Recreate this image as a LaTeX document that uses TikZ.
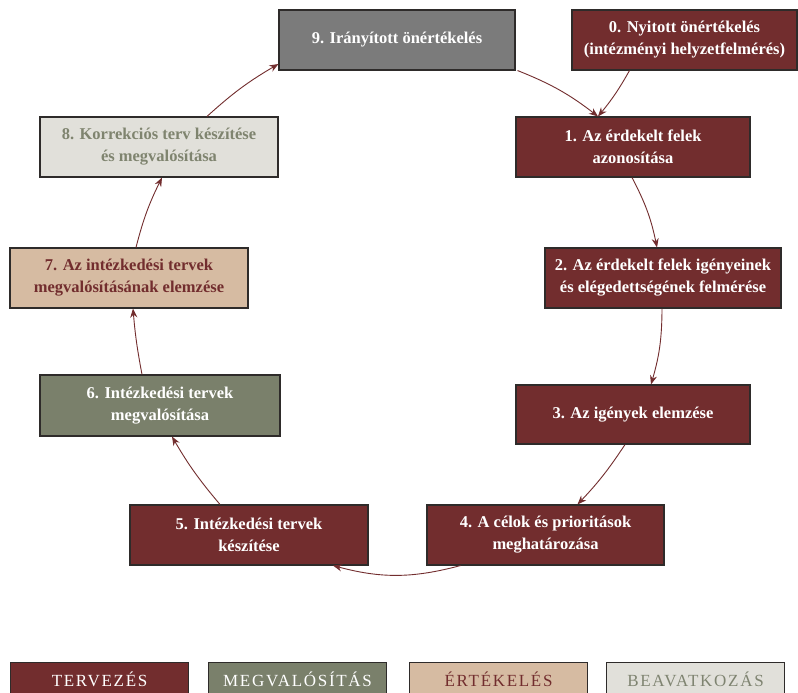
\documentclass[tikz,border=0pt]{standalone}
\usepackage{fontspec}
\setmainfont{Liberation Serif}
\newfontfamily\legendfont[LetterSpace=10]{Liberation Serif}
\usetikzlibrary{arrows.meta}
\definecolor{cRed}{HTML}{722D2E}
\definecolor{cOlive}{HTML}{7A806B}
\definecolor{cTan}{HTML}{D6BBA2}
\definecolor{cLight}{HTML}{E1E0DA}
\definecolor{cGray}{HTML}{7B7B7B}
\definecolor{cLightTxt}{HTML}{7F846F}
\definecolor{cBorder}{HTML}{2E2B2A}
\begin{document}
\begin{tikzpicture}[x=1pt,y=-1pt,
  box/.style={draw=cBorder,line width=1.1pt,align=center,inner sep=2pt,
    font=\fontsize{16.5}{22}\selectfont\bfseries},
  red/.style={box,fill=cRed,text=white},
  olive/.style={box,fill=cOlive,text=white},
  tan/.style={box,fill=cTan,text=cRed},
  light/.style={box,fill=cLight,text=cLightTxt},
  gray/.style={box,fill=cGray,text=white},
  leg/.style={draw=cBorder,line width=1.1pt,minimum width=178pt,minimum height=34pt,
    font=\legendfont\fontsize{17}{19}\selectfont,anchor=north west,inner sep=0pt,text depth=0pt},
  arr/.style={draw=cRed,line width=0.9pt,-{Stealth[length=9pt,width=7pt]}}]
\useasboundingbox (0,0) rectangle (798,693);
\fill[white] (0,0) rectangle (798,693);

\node[gray,minimum width=236pt,minimum height=60pt] (n9) at (397,40) {9. Irányított önértékelés};
\node[red,minimum width=225pt,minimum height=60pt] (n0) at (684.5,40) {0. Nyitott önértékelés\\(intézményi helyzetfelmérés)};
\node[red,minimum width=234pt,minimum height=60pt] (n1) at (633,147) {1. Az érdekelt felek\\azonosítása};
\node[red,minimum width=236pt,minimum height=60pt] (n2) at (663,278) {2. Az érdekelt felek igényeinek\\és elégedettségének felmérése};
\node[red,minimum width=234pt,minimum height=59pt] (n3) at (633,414.5) {3. Az igények elemzése};
\node[red,minimum width=237pt,minimum height=60pt] (n4) at (545.5,535) {4. A célok és prioritások\\meghatározása};
\node[red,minimum width=238pt,minimum height=60pt] (n5) at (249,535) {5. Intézkedési tervek\\készítése};
\node[olive,minimum width=240pt,minimum height=61pt] (n6) at (160,405.5) {6. Intézkedési tervek\\megvalósítása};
\node[tan,minimum width=238pt,minimum height=60pt] (n7) at (129,278) {7. Az intézkedési tervek\\megvalósításának elemzése};
\node[light,minimum width=238pt,minimum height=60pt] (n8) at (159,147) {8. Korrekciós terv készítése\\és megvalósítása};

\node[leg,fill=cRed,text=white] (l1) at (10,662) {TERVEZÉS};
\node[leg,fill=cOlive,text=white] (l2) at (208,662) {MEGVALÓSÍTÁS};
\node[leg,fill=cTan,text=cRed] (l3) at (409,662) {ÉRTÉKELÉS};
\node[leg,fill=cLight,text=cLightTxt!90!gray] (l4) at (606,662) {BEAVATKOZÁS};

\draw[arr] ([xshift=2pt]n9.south east) to[bend left=8] ([xshift=-35pt]n1.north);
\draw[arr] ([xshift=-55pt]n0.south) to[bend left=5] ([xshift=-35pt]n1.north);
\draw[arr] ([xshift=-1pt]n1.south) to[bend left=8] ([xshift=-6pt]n2.north);
\draw[arr] ([xshift=-1pt]n2.south) to[bend left=8] ([xshift=18pt]n3.north);
\draw[arr] ([xshift=-8pt]n3.south) to[bend left=5] ([xshift=32pt]n4.north);
\draw[arr] ([xshift=-85pt]n4.south) to[out=195,in=-15] ([xshift=84pt]n5.south);
\draw[arr] ([xshift=-29pt]n5.north) to[bend left=5] ([xshift=12pt]n6.south);
\draw[arr] ([xshift=-18pt]n6.north) to[bend left=3] ([xshift=4pt]n7.south);
\draw[arr] ([xshift=7pt]n7.north) to[bend left=6] ([xshift=3pt]n8.south);
\draw[arr] ([xshift=48pt]n8.north) to[bend left=6] ([yshift=-24pt]n9.west);
\end{tikzpicture}
\end{document}
